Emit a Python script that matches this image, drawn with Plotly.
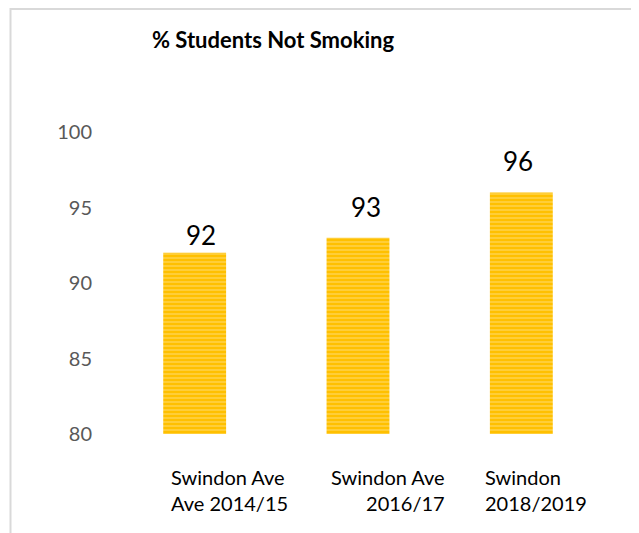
import plotly.graph_objects as go

categories = ["Swindon Ave 2014/15", "Swindon Ave 2016/17", "Swindon 2018/2019"]
values = [92, 93, 96]
cat_label_text = ["Swindon Ave<br>Ave 2014/15", "Swindon Ave<br>2016/17", "Swindon<br>2018/2019"]
y_ticks = [80, 85, 90, 95, 100]
title_text = "% Students Not Smoking"
axis_min = 80

# label placement (styling)
value_label_shift = [(6, 18), (8, 31), (-3, 31)]
cat_label_anchor = [("left", "left", -26), ("right", "right", 89), ("left", "left", -38)]

OFF = 8  # page body margin
W, H = 639, 533
# plot area in page pixels: x 113..603, y 132..434
L, T = 113 - OFF, 132 - OFF
pw, ph = 490, 302
R = W - L - pw
B = H - T - ph

def px_x(p):  # page pixel -> paper x
    return (p - OFF - L) / pw

def px_y(p):  # page pixel -> paper y
    return (T + ph - (p - OFF)) / ph

fig = go.Figure()
fig.add_trace(go.Bar(
    x=categories,
    y=[v - axis_min for v in values],
    base=[axis_min] * len(values),
    marker=dict(
        color="#FFC000",
        line=dict(width=0),
        pattern=dict(shape="-", size=4, solidity=0.35, fgcolor="#FFE7A0", bgcolor="#FFC000"),
    ),
    hoverinfo="skip",
))

# value labels
for cat, v, (xs, ys) in zip(categories, values, value_label_shift):
    fig.add_annotation(
        x=cat, xref="x", y=v, yref="y", yanchor="middle", xanchor="center",
        xshift=xs, yshift=ys, text=str(v), showarrow=False,
        font=dict(family="Lato", size=26, color="#000000"),
    )

# category labels
for cat, txt, (xa, al, xs) in zip(categories, cat_label_text, cat_label_anchor):
    fig.add_annotation(
        x=cat, xref="x", y=px_y(463), yref="paper", yanchor="top",
        xanchor=xa, align=al, xshift=xs, text=txt, showarrow=False,
        font=dict(family="Lato", size=20, color="#000000"),
    )

# border lines (cropped chart frame)
fig.add_shape(type="line", xref="paper", yref="paper",
              x0=px_x(10.5), x1=px_x(10.5), y0=px_y(8), y1=px_y(545),
              line=dict(color="#D9D9D9", width=2))
fig.add_shape(type="line", xref="paper", yref="paper",
              x0=px_x(10), x1=px_x(650), y0=px_y(9), y1=px_y(9),
              line=dict(color="#D9D9D9", width=2))

fig.update_layout(
    width=W, height=H,
    margin=dict(l=L, r=R, t=T, b=B, autoexpand=False),
    paper_bgcolor="white", plot_bgcolor="white",
    showlegend=False,
    bargap=0.615,
    title=dict(text="<b>" + title_text + "</b>", xref="paper", x=px_x(273), xanchor="center",
               yref="container", y=1 - (40 - OFF) / H, yanchor="middle",
               font=dict(family="Lato", size=22, color="#000000")),
    xaxis=dict(showticklabels=False, showline=False, showgrid=False, zeroline=False,
               ticks="", range=[-0.5, 2.5]),
    yaxis=dict(range=[80, 100], tickvals=y_ticks, showgrid=False, zeroline=False,
               showline=False, ticks="", ticklabelstandoff=20,
               tickfont=dict(family="Lato", size=20, color="#595959")),
)

fig.write_html("out.html")
